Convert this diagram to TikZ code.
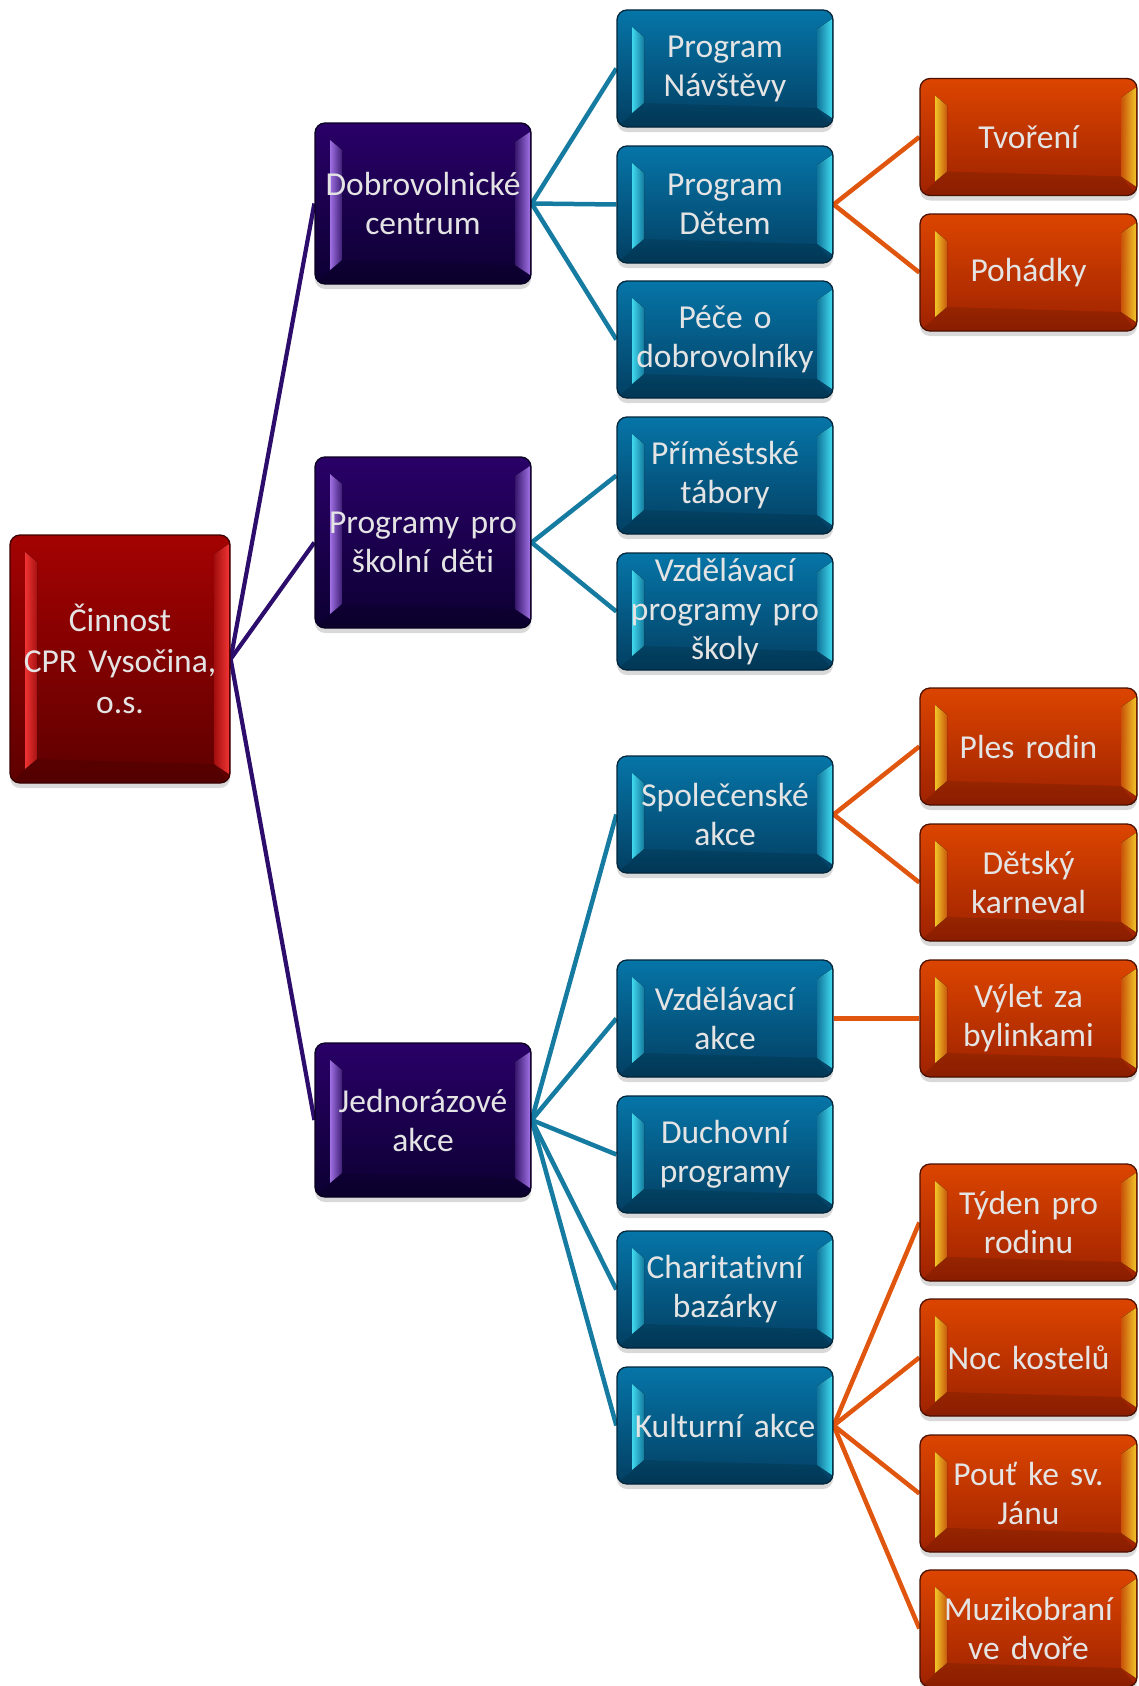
\documentclass[tikz,border=0pt]{standalone}
\usepackage{fontspec}
\setmainfont{Carlito}[RawFeature={-liga}]
\usetikzlibrary{shadows,backgrounds}
\definecolor{txt}{HTML}{E4E4E4}
\definecolor{rootT}{HTML}{A40202}
\definecolor{rootB}{HTML}{5E0000}
\definecolor{rootL}{HTML}{F03434}
\definecolor{rootD}{HTML}{3A0000}
\definecolor{purT}{HTML}{2A0068}
\definecolor{purB}{HTML}{0C0032}
\definecolor{purL}{HTML}{A070E4}
\definecolor{purD}{HTML}{0A0020}
\definecolor{bluT}{HTML}{0675A8}
\definecolor{bluB}{HTML}{033F62}
\definecolor{bluL}{HTML}{40D8EC}
\definecolor{bluD}{HTML}{02263A}
\definecolor{orT}{HTML}{DC4500}
\definecolor{orB}{HTML}{9E2200}
\definecolor{orL}{HTML}{F0C428}
\definecolor{orD}{HTML}{4A1000}
\definecolor{lnA}{HTML}{2D0D6C}
\definecolor{lnB}{HTML}{167BA1}
\definecolor{lnC}{HTML}{E0560E}
\tikzset{
  bevel/.style 2 args={path picture={
    \begin{scope}[sharp corners]
    \fill[black, opacity=0.12]
      (path picture bounding box.south west) --
      ([xshift=27pt,yshift=24pt]path picture bounding box.south west) --
      ([xshift=-16pt,yshift=19pt]path picture bounding box.south east) --
      (path picture bounding box.south east) -- cycle;
    \fill[left color=#1, right color=#1!45!#2]
      ([xshift=15pt,yshift=-17pt]path picture bounding box.north west) --
      ([xshift=27pt,yshift=-27pt]path picture bounding box.north west) --
      ([xshift=27pt,yshift=24pt]path picture bounding box.south west) --
      ([xshift=15pt,yshift=14pt]path picture bounding box.south west) -- cycle;
    \fill[left color=#1!35!#2, right color=#1]
      ([xshift=-16pt,yshift=-19pt]path picture bounding box.north east) --
      ([xshift=-1pt,yshift=-9pt]path picture bounding box.north east) --
      ([xshift=-1pt,yshift=9pt]path picture bounding box.south east) --
      ([xshift=-16pt,yshift=19pt]path picture bounding box.south east) -- cycle;
    \end{scope}
  }},
  boxbase/.style={rounded corners=10pt, inner sep=0pt, align=center,
    line width=1.3pt, text=txt,
    font=\fontsize{33.5pt}{39pt}\selectfont,
    drop shadow={opacity=0.3, shadow xshift=0pt, shadow yshift=-5pt}},
  rootbox/.style={boxbase, draw=rootD, top color=rootT, bottom color=rootB,
    bevel={rootL}{rootT!70!rootB}, minimum width=220pt, minimum height=248pt,
    text width=218pt, font=\fontsize{33.5pt}{41pt}\selectfont},
  purbox/.style={boxbase, draw=purD, top color=purT, bottom color=purB,
    bevel={purL}{purT!60!purB}, minimum width=216pt, text width=214pt},
  blubox/.style={boxbase, draw=bluD, top color=bluT, bottom color=bluB,
    bevel={bluL}{bluT!60!bluB}, minimum width=216pt, minimum height=117pt,
    text width=214pt},
  orbox/.style={boxbase, draw=orD, top color=orT, bottom color=orB,
    bevel={orL}{orT!60!orB}, minimum width=217pt, minimum height=117pt,
    text width=215pt},
  lineA/.style={draw=lnA, line width=4.2pt},
  lineB/.style={draw=lnB, line width=4.5pt},
  lineC/.style={draw=lnC, line width=4.5pt}
}
\begin{document}
\begin{tikzpicture}[x=1pt, y=-1pt]
\useasboundingbox (0,0) rectangle (1138,1686);
% root
\node[rootbox] (root) at (120,659) {Činnost\\CPR Vysočina,\\o.s.};
% level 1
\node[purbox, minimum height=161pt] (dob) at (423,203.5) {Dobrovolnické\\centrum};
\node[purbox, minimum height=171pt] (prog) at (423,542.5) {Programy pro\\školní děti};
\node[purbox, minimum height=154pt] (jedn) at (423,1120) {Jednorázové\\akce};
% level 2
\node[blubox] (nav) at (725,68.5) {Program\\Návštěvy};
\node[blubox] (det) at (725,204.5) {Program\\Dětem};
\node[blubox] (pece) at (725,339.5) {Péče o\\dobrovolníky};
\node[blubox] (prim) at (725,475.5) {Příměstské\\tábory};
\node[blubox] (vzdp) at (725,611.5) {Vzdělávací\\programy pro\\školy};
\node[blubox] (spol) at (725,814.5) {Společenské\\akce};
\node[blubox] (vzda) at (725,1018.5) {Vzdělávací\\akce};
\node[blubox] (duch) at (725,1154.5) {Duchovní\\programy};
\node[blubox] (char) at (725,1289.5) {Charitativní\\bazárky};
\node[blubox] (kult) at (725,1425.5) {Kulturní akce};
% level 3
\node[orbox] (tvo) at (1028.5,137) {Tvoření};
\node[orbox] (poh) at (1028.5,272.5) {Pohádky};
\node[orbox] (ples) at (1028.5,746.5) {Ples rodin};
\node[orbox] (karn) at (1028.5,882.5) {Dětský\\karneval};
\node[orbox] (vylet) at (1028.5,1018.5) {Výlet za\\bylinkami};
\node[orbox] (tyd) at (1028.5,1222.5) {Týden pro\\rodinu};
\node[orbox] (noc) at (1028.5,1357.5) {Noc kostelů};
\node[orbox] (pout) at (1028.5,1493.5) {Pouť ke sv.\\Jánu};
\node[orbox] (muz) at (1028.5,1628.5) {Muzikobraní\\ve dvoře};
\begin{scope}[on background layer]
  \foreach \c in {dob,prog,jedn} \draw[lineA] (root.east) -- (\c.west);
  \foreach \c in {nav,det,pece} \draw[lineB] (dob.east) -- (\c.west);
  \foreach \c in {prim,vzdp} \draw[lineB] (prog.east) -- (\c.west);
  \foreach \c in {spol,vzda,duch,char,kult} \draw[lineB] (jedn.east) -- (\c.west);
  \foreach \c in {tvo,poh} \draw[lineC] (det.east) -- (\c.west);
  \foreach \c in {ples,karn} \draw[lineC] (spol.east) -- (\c.west);
  \draw[lineC] (vzda.east) -- (vylet.west);
  \foreach \c in {tyd,noc,pout,muz} \draw[lineC] (kult.east) -- (\c.west);
\end{scope}
\end{tikzpicture}
\end{document}
